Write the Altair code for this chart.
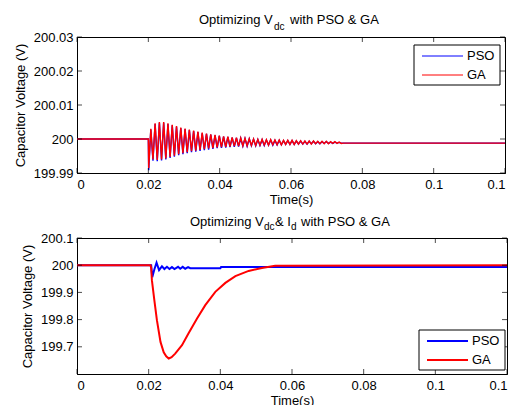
import altair as alt
import pandas as pd

FONT = "Liberation Sans"

# ---------------- data ----------------
series_names = ["PSO", "GA"]
series_colors = ["#0000ff", "#ff0000"]
x_ticks = [0, 0.02, 0.04, 0.06, 0.08, 0.1, 0.12]
top_y_ticks = [199.99, 200.0, 200.01, 200.02, 200.03]
bot_y_ticks = [199.7, 199.8, 199.9, 200.0, 200.1]
x_title = "Time(s)"
y_title = "Capacitor Voltage (V)"
top_title = ["Optimizing V", "dc", "with PSO & GA"]
bot_title = ["Optimizing V", "dc", "& I", "d", "with PSO & GA"]

# top panel: Vdc optimised (both series share the same time samples)
top_time = [
    0.0, 0.0200,
    0.0201, 0.0207, 0.0213, 0.0219, 0.0225, 0.0231, 0.0237, 0.0243, 0.0249, 0.0255,
    0.0261, 0.0267, 0.0273, 0.0279, 0.0285, 0.0291, 0.0297, 0.0303, 0.0309, 0.0315,
    0.0321, 0.0327, 0.0333, 0.0339, 0.0345, 0.0351, 0.0357, 0.0363, 0.0369, 0.0375,
    0.0381, 0.0387, 0.0393, 0.0399, 0.0405, 0.0411, 0.0417, 0.0423, 0.0429, 0.0435,
    0.0441, 0.0447, 0.0453, 0.0459, 0.0465, 0.0471, 0.0477, 0.0483, 0.0489, 0.0495,
    0.0501, 0.0507, 0.0513, 0.0519, 0.0525, 0.0531, 0.0537, 0.0543, 0.0549, 0.0555,
    0.0561, 0.0567, 0.0573, 0.0579, 0.0585, 0.0591, 0.0597, 0.0603, 0.0609, 0.0615,
    0.0621, 0.0627, 0.0633, 0.0639, 0.0645, 0.0651, 0.0657, 0.0663, 0.0669, 0.0675,
    0.0681, 0.0687, 0.0693, 0.0699, 0.0705, 0.0711, 0.0717, 0.0723, 0.0729, 0.0735,
    0.0741, 0.0747, 0.1200,
]
top_ga = [
    200.0, 200.0,
    199.9915, 200.0030, 199.9940, 200.0046, 199.9938, 200.0050, 199.9940, 200.0050, 199.9943, 200.0046,
    199.9947, 200.0042, 199.9951, 200.0038, 199.9955, 200.0034, 199.9958, 200.0031, 199.9961, 200.0028,
    199.9964, 200.0025, 199.9966, 200.0022, 199.9968, 200.0019, 199.9970, 200.0016, 199.9972, 200.0014,
    199.9973, 200.0012, 199.9975, 200.0010, 199.9976, 200.0008, 199.9977, 200.0007, 199.9978, 200.0005,
    199.9979, 200.0004, 199.9979, 200.0003, 199.9980, 200.0002, 199.9980, 200.0001, 199.9981, 200.0000,
    199.9981, 199.9999, 199.9982, 199.9999, 199.9982, 199.9998, 199.9982, 199.9998, 199.9983, 199.9997,
    199.9983, 199.9997, 199.9983, 199.9996, 199.9984, 199.9996, 199.9984, 199.9996, 199.9984, 199.9995,
    199.9985, 199.9995, 199.9985, 199.9994, 199.9985, 199.9994, 199.9985, 199.9994, 199.9986, 199.9993,
    199.9986, 199.9993, 199.9986, 199.9993, 199.9986, 199.9992, 199.9987, 199.9992, 199.9987, 199.9991,
    199.9987, 199.9988, 199.9988,
]
top_pso = [
    200.0, 200.0,
    199.9908, 200.0028, 199.9936, 200.0044, 199.9935, 200.0048, 199.9937, 200.0048, 199.9940, 200.0044,
    199.9944, 200.0040, 199.9948, 200.0036, 199.9952, 200.0032, 199.9955, 200.0029, 199.9958, 200.0026,
    199.9961, 200.0023, 199.9963, 200.0020, 199.9965, 200.0017, 199.9967, 200.0015, 199.9969, 200.0013,
    199.9971, 200.0011, 199.9973, 200.0009, 199.9974, 200.0007, 199.9975, 200.0006, 199.9976, 200.0004,
    199.9977, 200.0003, 199.9978, 200.0002, 199.9979, 200.0001, 199.9979, 200.0000, 199.9980, 199.9999,
    199.9980, 199.9998, 199.9981, 199.9998, 199.9981, 199.9997, 199.9982, 199.9997, 199.9982, 199.9996,
    199.9983, 199.9996, 199.9983, 199.9995, 199.9984, 199.9995, 199.9984, 199.9995, 199.9984, 199.9994,
    199.9985, 199.9994, 199.9985, 199.9993, 199.9985, 199.9993, 199.9986, 199.9993, 199.9986, 199.9992,
    199.9986, 199.9992, 199.9987, 199.9992, 199.9987, 199.9991, 199.9987, 199.9991, 199.9988, 199.9990,
    199.9988, 199.9988, 199.9988,
]

# bottom panel: Vdc & Id optimised
bot_time_pso = [0.0, 0.0207, 0.0210, 0.0216, 0.0222, 0.0229, 0.0237, 0.0244, 0.0251, 0.0258,
                0.0265, 0.0272, 0.0282, 0.0288, 0.0295, 0.0302, 0.0310, 0.0316, 0.0400, 0.0402, 0.1200]
bot_pso = [200.0, 200.0, 199.956, 199.985, 200.009, 199.982, 199.996, 199.986, 199.994, 199.986,
           199.993, 199.986, 199.994, 199.987, 199.994, 199.987, 199.993, 199.989, 199.989, 199.993, 199.993]
bot_time_ga = [0.0, 0.0205, 0.0207, 0.0209, 0.0216, 0.0223, 0.0233, 0.0242, 0.0249, 0.0256, 0.0264,
               0.0274, 0.0293, 0.0311, 0.0335, 0.0358, 0.0386, 0.0414, 0.0442, 0.0479, 0.0516, 0.0553, 0.1200]
bot_ga = [200.0, 200.0, 199.99, 199.945, 199.87, 199.798, 199.718, 199.68, 199.665, 199.657, 199.662,
          199.675, 199.706, 199.749, 199.804, 199.853, 199.902, 199.935, 199.96, 199.979, 199.99, 199.998, 200.0]


def panel(t_pso, v_pso, t_ga, v_ga, ydom, yticks, w, h, sw, lsw, lx, ly, title_parts, title_pos):
    df_p = pd.DataFrame({"t": t_pso, "v": v_pso, "s": series_names[0]})
    df_g = pd.DataFrame({"t": t_ga, "v": v_ga, "s": series_names[1]})
    xs = alt.Scale(domain=[0, 0.12], nice=False, zero=False)
    ys = alt.Scale(domain=ydom, nice=False, zero=False)
    xaxis = alt.Axis(values=x_ticks, format="~g", title=x_title, ticks=False, grid=False,
                     labelPadding=5, titlePadding=2)
    yaxis = alt.Axis(values=yticks, format="~f", title=y_title, ticks=False, grid=False,
                     labelPadding=4, titlePadding=6)
    color = alt.Color("s:N", scale=alt.Scale(domain=series_names, range=series_colors), legend=None)
    enc = dict(x=alt.X("t:Q", scale=xs, axis=xaxis), y=alt.Y("v:Q", scale=ys, axis=yaxis), color=color)
    pso = alt.Chart(df_p).mark_line(strokeWidth=sw, clip=True).encode(**enc)
    ga = alt.Chart(df_g).mark_line(strokeWidth=sw, clip=True).encode(**enc)

    xt = pd.DataFrame({"t": x_ticks})
    yt = pd.DataFrame({"v": yticks})
    tx = alt.X("t:Q", scale=xs, axis=xaxis)
    ty = alt.Y("v:Q", scale=ys, axis=yaxis)
    tick_b = alt.Chart(xt).mark_tick(orient="vertical", size=5, thickness=1, color="black", yOffset=-2.5).encode(
        x=tx, y=alt.value(h))
    tick_t = alt.Chart(xt).mark_tick(orient="vertical", size=5, thickness=1, color="black", yOffset=2.5).encode(
        x=tx, y=alt.value(0))
    tick_l = alt.Chart(yt).mark_tick(orient="horizontal", size=5, thickness=1, color="black", xOffset=2.5).encode(
        y=ty, x=alt.value(0))
    tick_r = alt.Chart(yt).mark_tick(orient="horizontal", size=5, thickness=1, color="black", xOffset=-2.5).encode(
        y=ty, x=alt.value(w))

    one = pd.DataFrame({"k": [0]})
    texts = []
    for part, (px, py, fs) in zip(title_parts, title_pos):
        texts.append(alt.Chart(one).mark_text(text=part, align="left", baseline="alphabetic", font=FONT,
                                              fontSize=fs, color="black").encode(x=alt.value(px), y=alt.value(py)))

    # legend box drawn by hand (line samples + labels)
    leg = [alt.Chart(one).mark_rect(fill="white", stroke="black", strokeWidth=1).encode(
        x=alt.value(lx), x2=alt.value(lx + 86), y=alt.value(ly), y2=alt.value(ly + 40))]
    for i, (name, col) in enumerate(zip(series_names, series_colors)):
        yy = ly + 11 + 19 * i
        leg.append(alt.Chart(one).mark_rule(color=col, strokeWidth=lsw).encode(
            x=alt.value(lx + 8), x2=alt.value(lx + 49), y=alt.value(yy)))
        leg.append(alt.Chart(one).mark_text(text=name, align="left", baseline="middle", font=FONT,
                                            fontSize=13, color="black").encode(x=alt.value(lx + 53), y=alt.value(yy)))
    return alt.layer(pso, ga, tick_b, tick_t, tick_l, tick_r, *texts, *leg).properties(width=w, height=h)


top = panel(top_time, top_pso, top_time, top_ga, [199.99, 200.03], top_y_ticks, 428, 136, 1.4, 1, 337, 8,
            top_title, [(122, -13, 13), (197, -7.3, 10), (213, -13, 13)])
bot = panel(bot_time_pso, bot_pso, bot_time_ga, bot_ga, [199.6, 200.1], bot_y_ticks, 430, 136, 2, 2, 342, 92,
            bot_title, [(113, -12, 13), (187, -8, 10), (198, -12, 13), (214, -8, 10), (224, -12, 13)])

chart = alt.vconcat(top, bot, spacing=8).resolve_scale(
    color="independent", x="independent", y="independent"
).configure_view(
    stroke="black", strokeWidth=1
).configure_axis(
    labelFont=FONT, titleFont=FONT, labelFontSize=13, titleFontSize=13, titleFontWeight="normal",
    labelColor="black", titleColor="black", domainColor="black", domainWidth=1
).properties(background="white")

chart.save("out.html", embed_options={"renderer": "svg", "actions": False})
